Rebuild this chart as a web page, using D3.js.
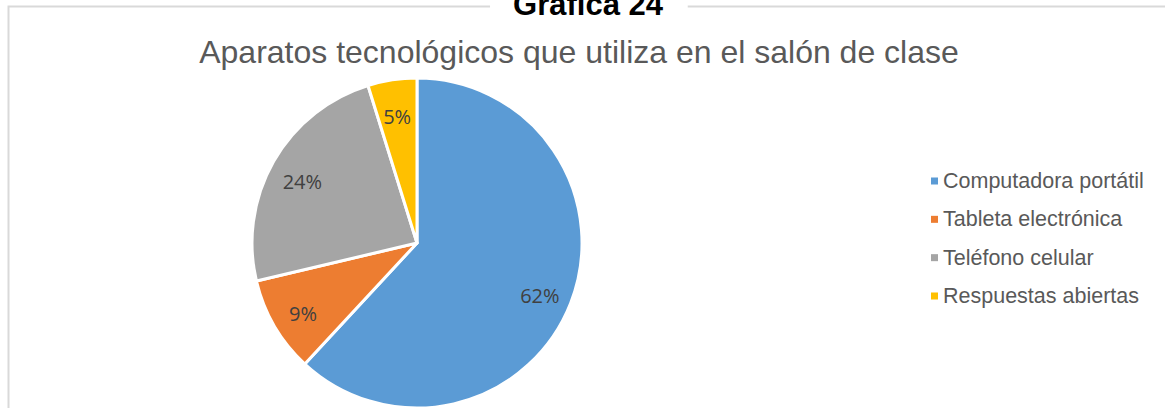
<!DOCTYPE html>
<html><head><meta charset="utf-8">
<script src="https://cdn.jsdelivr.net/npm/d3@7"></script>
<style>html,body{margin:0;padding:0;background:#fff;overflow:hidden}</style>
</head><body>
<svg id="c" width="1165" height="408"></svg>
<script>
const categories = ["Computadora portátil","Tableta electrónica","Teléfono celular","Respuestas abiertas"];
const values = [61.9, 9.4, 23.9, 4.8];
const colors = ["#5B9BD5","#ED7D31","#A5A5A5","#FFC000"];
const chartTitle = "Gráfica 24";
const subTitle = "Aparatos tecnológicos que utiliza en el salón de clase";

const svg = d3.select("#c");

// frame
svg.append("path").attr("d", "M8.5,408 V6.5 H1165").attr("fill","none").attr("stroke","#d9d9d9").attr("stroke-width",2);

// header title with white gap
const t = svg.append("text").attr("x", 588).attr("y", 15).attr("text-anchor","middle")
  .attr("font-family","Liberation Sans, Arial, sans-serif").attr("font-weight","bold").attr("font-size",31)
  .attr("fill","#000").text(chartTitle);
const bb = t.node().getBBox();
svg.insert("rect", "text").attr("x", bb.x - 23).attr("y", 0).attr("width", bb.width + 47).attr("height", 12).attr("fill","#fff");

svg.append("text").attr("x", 579).attr("y", 63).attr("text-anchor","middle")
  .attr("font-family","Liberation Sans, Arial, sans-serif").attr("font-size",32)
  .attr("fill","#595959").text(subTitle);

// pie
const cx = 417, cy = 243, r = 165;
const pie = d3.pie().sort(null).value(d => d)(values);
const arc = d3.arc().innerRadius(0).outerRadius(r);
const labelArc = d3.arc().innerRadius(r*0.8).outerRadius(r*0.8);
const g = svg.append("g").attr("transform", `translate(${cx},${cy})`);
g.selectAll("path").data(pie).join("path")
  .attr("d", arc).attr("fill", (d,i)=>colors[i]).attr("stroke","#fff").attr("stroke-width",3).attr("stroke-linejoin","round");
const total = d3.sum(values);
g.selectAll("text").data(pie).join("text")
  .attr("transform", d => `translate(${labelArc.centroid(d)})`)
  .attr("dy", 4)
  .attr("text-anchor","middle").attr("dominant-baseline","central")
  .attr("font-family","Open Sans, sans-serif").attr("font-size",20).attr("fill","#404040")
  .text(d => Math.round(d.data/total*100) + "%");

// legend
const lg = svg.append("g").attr("transform","translate(931,0)");
const y = d3.scalePoint().domain(categories).range([181, 296]);
categories.forEach((c,i) => {
  lg.append("rect").attr("x",0).attr("y", y(c)-3.5).attr("width",7).attr("height",7).attr("fill",colors[i]);
  lg.append("text").attr("x",12).attr("y", y(c)).attr("dominant-baseline","central")
    .attr("font-family","Liberation Sans, Arial, sans-serif").attr("font-size",21.5).attr("fill","#595959").text(c);
});
</script>
</body></html>
